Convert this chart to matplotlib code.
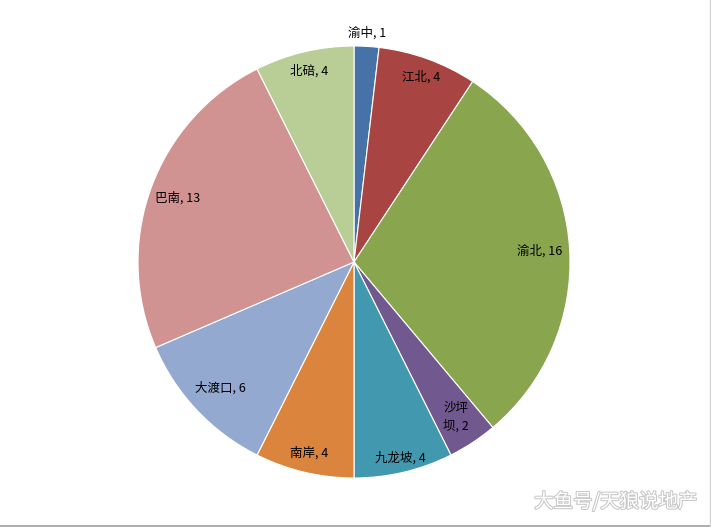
import matplotlib
matplotlib.use("Agg")
import matplotlib.pyplot as plt
import matplotlib.patheffects as pe
from matplotlib.lines import Line2D
import numpy as np

plt.rcParams['font.family'] = ['Noto Sans CJK SC', 'DejaVu Sans']

districts = ['渝中', '江北', '渝北', '沙坪\n坝', '九龙坡', '南岸', '大渡口', '巴南', '北碚']
counts = [1, 4, 16, 2, 4, 4, 6, 13, 4]
colors = ['#4672A8', '#A84442', '#89A54E', '#71588F', '#4198AF',
          '#DB843D', '#93A9CF', '#D19392', '#B9CD96']
# distance of each data label from the centre, in pie radii
label_r = [1.06, 0.91, 0.86, 0.86, 0.93, 0.91, 0.85, 0.87, 0.91]

fig = plt.figure(figsize=(7.11, 5.27), dpi=100)
W, H = 711, 527
cx, cy, R = 354, 262, 216
ax = fig.add_axes([(cx - R) / W, (H - cy - R) / H, 2 * R / W, 2 * R / H])

wedges, _ = ax.pie(counts, colors=colors, startangle=90, counterclock=False,
                   radius=1, wedgeprops=dict(edgecolor='white', linewidth=0.8))

total = sum(counts)
cum = np.cumsum([0] + counts)
for i, (name, v) in enumerate(zip(districts, counts)):
    mid = (cum[i] + v / 2) / total * 2 * np.pi
    x = label_r[i] * np.sin(mid)
    y = label_r[i] * np.cos(mid)
    ax.text(x, y, f'{name}, {v}', ha='center', va='center', fontsize=9,
            color='black', linespacing=1.35)

ax.set_xlim(-1, 1)
ax.set_ylim(-1, 1)
ax.set_aspect('equal')
ax.axis('off')

# watermark
fig.text(616 / W, 1 - 502 / H, '大鱼号/天狼说地产', fontsize=14, color='white',
         ha='center', va='center',
         path_effects=[pe.withStroke(linewidth=1.5, foreground='#C8C8C8')])

# frame lines at right and bottom
fig.add_artist(Line2D([0, 1], [1.5 / H, 1.5 / H], transform=fig.transFigure,
                      color='#A0A0A0', linewidth=1.2))
fig.add_artist(Line2D([1 - 1.5 / W, 1 - 1.5 / W], [0, 1], transform=fig.transFigure,
                      color='#D0D0D0', linewidth=1.0))

fig.savefig('out.png', dpi=100)
